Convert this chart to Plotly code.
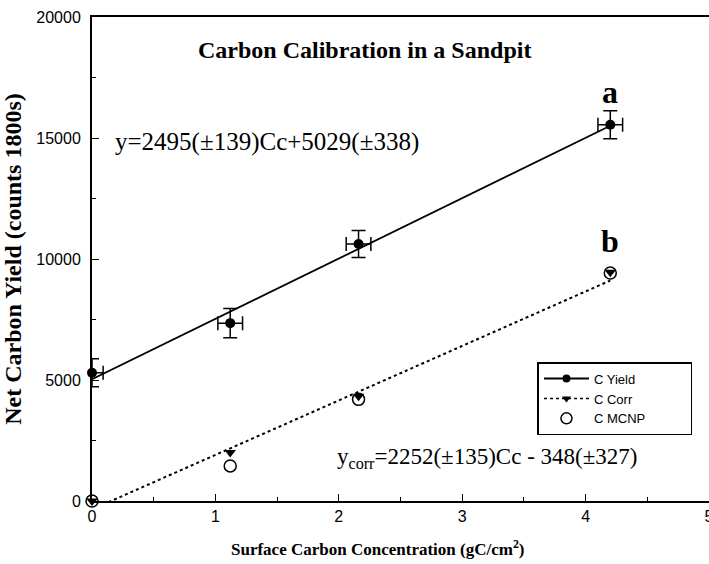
"""Carbon calibration chart"""
import plotly.graph_objects as go

# データ
conc = [0.0, 1.12, 2.16, 4.2]
conc_err = [0.09, 0.1, 0.1, 0.1]
yield_vals = [5300, 7350, 10620, 15550]
yield_err = [580, 600, 560, 580]
corr_vals = [0, 2000, 4330, 9450]
mcnp_vals = [0, 1450, 4200, 9420]

fit_yield = (2495, 5029)
fit_corr = (2252, -348)
fit_x = [0.0, 4.2]

serif = "Liberation Serif"
sans = "Liberation Sans"
pad = "\u00a0" * 11

fig = go.Figure()

# 測定値（誤差付き）
fig.add_trace(go.Scatter(
    x=conc, y=yield_vals, mode="markers", name="C Yield",
    marker=dict(symbol="circle", size=10, color="black"),
    error_y=dict(type="data", array=yield_err, color="black", thickness=1.5, width=7),
    error_x=dict(type="data", array=conc_err, color="black", thickness=1.5, width=7),
    showlegend=False, cliponaxis=False,
))

# 直線フィット
fig.add_trace(go.Scatter(
    x=fit_x, y=[fit_yield[0] * x + fit_yield[1] for x in fit_x],
    mode="lines", line=dict(color="black", width=1.8), showlegend=False,
))
fig.add_trace(go.Scatter(
    x=fit_x, y=[fit_corr[0] * x + fit_corr[1] for x in fit_x],
    mode="lines", line=dict(color="black", width=2, dash="dot"), showlegend=False,
))

fig.add_trace(go.Scatter(
    x=conc, y=mcnp_vals, mode="markers", name="C MCNP",
    marker=dict(symbol="circle-open", size=12, color="black", line=dict(width=1.5)),
    showlegend=False, cliponaxis=False,
))
fig.add_trace(go.Scatter(
    x=conc, y=corr_vals, mode="markers", name="C Corr",
    marker=dict(symbol="triangle-down", size=10, color="black"),
    showlegend=False, cliponaxis=False,
))

# 凡例用ダミー
fig.add_trace(go.Scatter(
    x=[None], y=[None], mode="lines+markers", name="C Yield" + pad,
    line=dict(color="black", width=2), marker=dict(symbol="circle", size=8, color="black"),
))
fig.add_trace(go.Scatter(
    x=[None], y=[None], mode="lines+markers", name="C Corr" + pad,
    line=dict(color="black", width=1.5, dash="dot"),
    marker=dict(symbol="triangle-down", size=8, color="black"),
))
fig.add_trace(go.Scatter(
    x=[None], y=[None], mode="markers", name="C MCNP" + pad,
    marker=dict(symbol="circle-open", size=11, color="black", line=dict(width=1.5)),
))

annotations = [
    dict(x=2.21, y=18650, text="<b>Carbon Calibration in a Sandpit</b>",
         font=dict(family=serif, size=24, color="black")),
    dict(x=0.17, y=14850, text="y=2495(\u00b1139)Cc+5029(\u00b1338)", xanchor="left",
         font=dict(family=serif, size=25, color="black")),
    dict(x=4.2, y=16900, text="<b>a</b>", font=dict(family=serif, size=32, color="black")),
    dict(x=4.2, y=10750, text="<b>b</b>", font=dict(family=serif, size=32, color="black")),
    dict(x=1.97, y=1780, xanchor="left",
         text="y<sub>corr</sub>=2252(\u00b1135)Cc - 348(\u00b1327)",
         font=dict(family=serif, size=23, color="black")),
]
annotations = [dict(showarrow=False, xref="x", yref="y", **a) for a in annotations]
annotations.append(dict(
    showarrow=False, xref="paper", yref="paper", x=0.4635, y=0, yshift=-47,
    yanchor="middle", text="<b>Surface Carbon Concentration (gC/cm<sup>2</sup>)</b>",
    font=dict(family=serif, size=17, color="black"),
))

fig.update_layout(
    width=709, height=564,
    margin=dict(l=92, r=0, t=17, b=63, autoexpand=False),
    paper_bgcolor="white", plot_bgcolor="white",
    showlegend=True,
    legend=dict(
        x=0.722, y=0.287, xanchor="left", yanchor="top",
        bgcolor="white", bordercolor="black", borderwidth=1.5,
        font=dict(family=sans, size=13, color="black"),
        tracegroupgap=0, itemwidth=45,
    ),
    annotations=annotations,
    xaxis=dict(
        range=[0, 5], dtick=1, tick0=0, showgrid=False, zeroline=False,
        showline=True, linecolor="black", linewidth=2, mirror=True, automargin=False,
        ticks="inside", ticklen=7, tickcolor="black", ticklabeloverflow="allow",
        minor=dict(ticks="inside", dtick=0.5, ticklen=4, tickcolor="black"),
        tickfont=dict(family=sans, size=16, color="black"),
    ),
    yaxis=dict(
        range=[0, 20000], dtick=5000, tick0=0, tickformat="d",
        showgrid=False, zeroline=False, automargin=False,
        showline=True, linecolor="black", linewidth=2, mirror=True,
        ticks="inside", ticklen=7, tickcolor="black", ticklabelstandoff=6,
        minor=dict(ticks="inside", dtick=2500, ticklen=4, tickcolor="black"),
        tickfont=dict(family=sans, size=16, color="black"),
        title=dict(text="<b>Net Carbon Yield (counts 1800s)</b>",
                   font=dict(family=serif, size=24, color="black"), standoff=10),
    ),
)

# ページ余白を消して図を左上に合わせる
fig.write_html(
    "out.html",
    config={"displayModeBar": False},
    post_script="document.body.style.margin='0';document.body.style.overflow='hidden';",
)
